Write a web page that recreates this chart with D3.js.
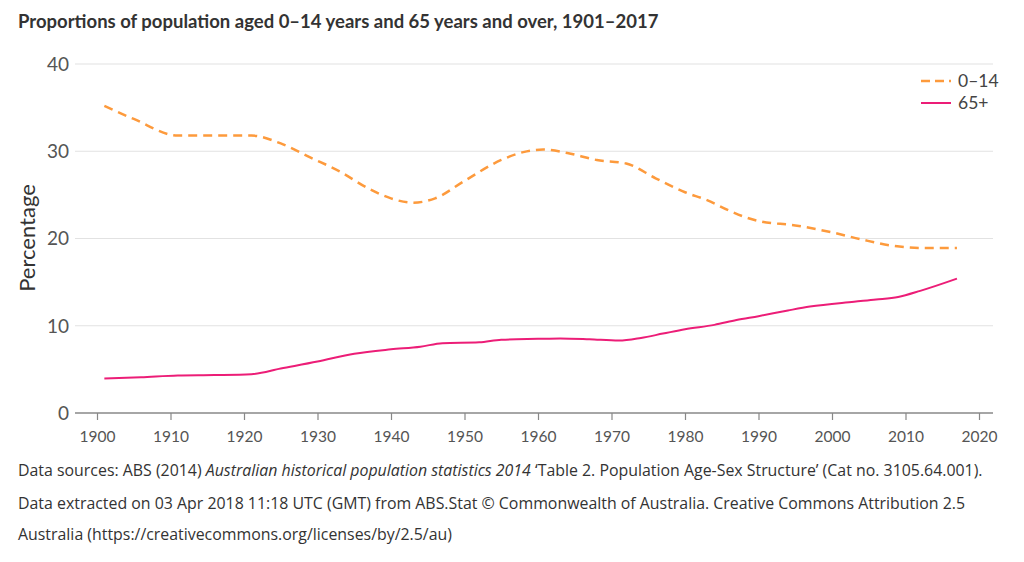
<!DOCTYPE html>
<html><head><meta charset="utf-8">
<script src="https://cdn.jsdelivr.net/npm/d3@7"></script>
<style>
body{margin:0;background:#fff;}
text{font-family:Lato,"Open Sans",sans-serif;}
text.foot{font-family:"Open Sans",sans-serif;}
</style></head>
<body><svg id="c" width="1024" height="562"></svg>
<script>
const years0_14 = [1901,1905,1911,1916,1921,1925,1929,1933,1937,1940,1943,1946,1950,1955,1958,1960.7,1964,1968,1972,1976,1980,1983,1986,1988,1990,1995,2000,2004,2008,2010,2013,2017];
const values0_14 = [35.2,33.7,31.8,31.8,31.8,30.9,29.3,27.7,25.7,24.6,24.1,24.6,26.6,29.0,29.9,30.2,29.8,29.0,28.6,26.9,25.3,24.4,23.2,22.5,22.0,21.5,20.7,19.9,19.2,19.0,18.9,18.9];
const years65 = [1901,1906,1911,1916,1921,1925,1930,1935,1940,1944,1947,1952,1955,1960,1963,1967,1971,1974,1977,1980,1984,1987,1990,1994,1997,2003,2006,2009,2012,2017];
const values65 = [3.95,4.1,4.3,4.35,4.45,5.1,5.9,6.8,7.3,7.6,8.0,8.1,8.4,8.5,8.55,8.45,8.3,8.6,9.1,9.6,10.1,10.65,11.1,11.75,12.2,12.75,13.0,13.3,14.0,15.4];
const xTicks = [1900,1910,1920,1930,1940,1950,1960,1970,1980,1990,2000,2010,2020];
const yTicks = [0,10,20,30,40];
const seriesNames = ["0–14","65+"];
const colors = ["#fd9a3c","#ec1d77"];

const svg = d3.select("#c");
const x = d3.scaleLinear().domain([1900,2020]).range([97,979]);
const y = d3.scaleLinear().domain([0,40]).range([413,64]);
const gridL = 75, gridR = 993;

svg.append("text").attr("x",18).attr("y",28).attr("font-size",18.5).attr("font-weight","bold").attr("fill","#333")
  .text("Proportions of population aged 0–14 years and 65 years and over, 1901–2017");

svg.append("g").selectAll("line").data(yTicks.filter(d=>d>0)).join("line")
  .attr("x1",gridL).attr("x2",gridR).attr("y1",d=>y(d)).attr("y2",d=>y(d))
  .attr("stroke","#e2e2e2").attr("stroke-width",1.2);
svg.append("g").selectAll("text").data(yTicks).join("text")
  .attr("x",69).attr("y",d=>y(d)).attr("dy","0.36em").attr("text-anchor","end")
  .attr("font-size",19).attr("fill","#555").text(d=>d);
const xa = svg.append("g").attr("transform","translate(0,413)")
  .call(d3.axisBottom(x).tickValues(xTicks).tickFormat(d3.format("d")).tickSize(7).tickSizeOuter(0));
xa.attr("font-family",null);
xa.select(".domain").attr("d",`M${gridL},0H${gridR}`).attr("stroke","#888").attr("stroke-width",1.5);
xa.selectAll(".tick line").attr("stroke","#888").attr("stroke-width",1.2);
xa.selectAll(".tick text").attr("font-size",15.5).attr("fill","#555").attr("dy","1.22em");

svg.append("text").attr("transform","translate(35,238) rotate(-90)").attr("text-anchor","middle")
  .attr("font-size",22).attr("fill","#333").text("Percentage");

const line = d3.line().x(d=>x(d[0])).y(d=>y(d[1])).curve(d3.curveMonotoneX);
svg.append("path").datum(years0_14.map((d,i)=>[d,values0_14[i]])).attr("d",line)
  .attr("fill","none").attr("stroke",colors[0]).attr("stroke-width",2.5).attr("stroke-dasharray","9,6");
svg.append("path").datum(years65.map((d,i)=>[d,values65[i]])).attr("d",line)
  .attr("fill","none").attr("stroke",colors[1]).attr("stroke-width",2);

const lg = svg.append("g");
seriesNames.forEach((n,i)=>{
  const yy = 81 + i*22;
  lg.append("line").attr("x1",921).attr("x2",951).attr("y1",yy).attr("y2",yy)
    .attr("stroke",colors[i]).attr("stroke-width",i===0?2.5:2).attr("stroke-dasharray",i===0?"9,5":null);
  lg.append("text").attr("x",958).attr("y",yy).attr("dy","0.36em").attr("font-size",17.5).attr("fill","#444").text(n);
});

const fs = 15.9;
const f1 = svg.append("text").attr("class","foot").attr("x",18).attr("y",476).attr("font-size",fs).attr("fill","#333");
f1.append("tspan").text("Data sources: ABS (2014) ");
f1.append("tspan").attr("font-style","italic").text("Australian historical population statistics 2014");
f1.append("tspan").text(" ‘Table 2. Population Age-Sex Structure’ (Cat no. 3105.64.001).");
svg.append("text").attr("class","foot").attr("x",18).attr("y",509).attr("font-size",fs).attr("fill","#333")
  .text("Data extracted on 03 Apr 2018 11:18 UTC (GMT) from ABS.Stat © Commonwealth of Australia. Creative Commons Attribution 2.5");
svg.append("text").attr("class","foot").attr("x",18).attr("y",540).attr("font-size",fs).attr("fill","#333")
  .text("Australia (https://creativecommons.org/licenses/by/2.5/au)");
</script></body></html>
